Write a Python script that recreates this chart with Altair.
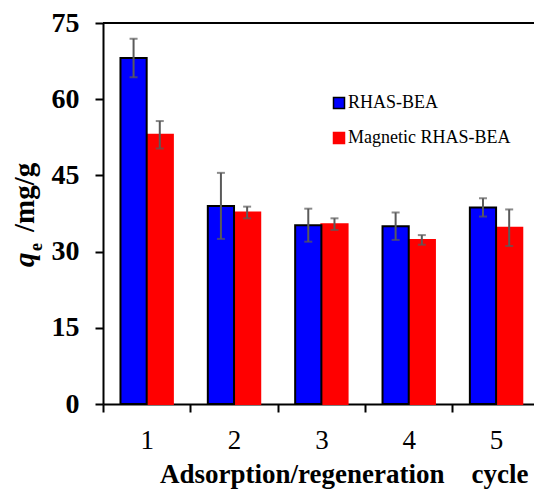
import altair as alt
import pandas as pd

cycles = [1, 2, 3, 4, 5]
rhas = [68.1, 39.0, 35.2, 35.0, 38.7]
rhas_err = [3.8, 6.5, 3.25, 2.7, 1.8]
mag = [53.0, 37.7, 35.4, 32.3, 34.7]
mag_err = [2.7, 1.15, 1.15, 0.95, 3.6]
series_names = ["RHAS-BEA", "Magnetic RHAS-BEA"]
colors = ["#0000FF", "#FF0000"]
strokes = ["#000000", "#FF0000"]
y_ticks = [0, 15, 30, 45, 60, 75]

rows = []
# red first so blue outlines draw on top
for c, v, e in zip(cycles, mag, mag_err):
    rows.append({"cycle": c, "series": series_names[1], "value": v, "err": e, "side": 1})
for c, v, e in zip(cycles, rhas, rhas_err):
    rows.append({"cycle": c, "series": series_names[0], "value": v, "err": e, "side": -1})
df = pd.DataFrame(rows)

HALF = 0.3
FONT = "Liberation Serif"
BOLD = dict(font=FONT, fontWeight="bold", color="black")
W, H = 431, 381

xscale = alt.Scale(domain=[0.5, 0.5 + W / 87.35], nice=False, zero=False)
yscale = alt.Scale(domain=[0, 75], nice=False)

base = alt.Chart(df).transform_calculate(
    x0="datum.side < 0 ? datum.cycle - %f : datum.cycle" % HALF,
    x1="datum.side < 0 ? datum.cycle : datum.cycle + %f" % HALF,
    xc="datum.cycle + datum.side * %f" % (HALF / 2),
    lo="datum.value - datum.err",
    hi="datum.value + datum.err",
)

bars = base.mark_bar(strokeWidth=2).encode(
    x=alt.X("x0:Q", scale=xscale,
            axis=alt.Axis(values=[0.5, 1, 1.5, 2, 2.5, 3, 3.5, 4, 4.5, 5],
                          title=None, grid=False,
                          labelExpr="datum.value % 1 === 0 ? format(datum.value, 'd') : ''",
                          tickOpacity={"condition": {"test": "datum.value % 1 !== 0", "value": 1}, "value": 0},
                          labelOverlap=False, labelFlush=False,
                          labelFont=FONT, labelFontSize=27, labelColor="black",
                          labelPadding=15, tickSize=8, tickWidth=2, tickColor="black",
                          domainColor="black", domainWidth=2)),
    x2="x1:Q",
    y=alt.Y("value:Q", scale=yscale,
            axis=alt.Axis(values=y_ticks, title=None, grid=False,
                          labelFont=FONT, labelFontSize=28, labelFontWeight="bold",
                          labelColor="black", labelPadding=16, tickSize=8, tickWidth=2,
                          tickColor="black", domainColor="black", domainWidth=2)),
    y2=alt.datum(0),
    fill=alt.Fill("series:N",
                  scale=alt.Scale(domain=series_names, range=colors),
                  legend=alt.Legend(title=None, orient="none", legendX=227, legendY=71,
                                    symbolType="square", symbolSize=121, symbolStrokeWidth=1.5,
                                    labelFont=FONT, labelFontSize=18, labelColor="black",
                                    labelLimit=0, labelOffset=0, rowPadding=17, padding=0)),
    stroke=alt.Stroke("series:N", scale=alt.Scale(domain=series_names, range=strokes), legend=None),
    order=alt.Order("side:Q", sort="descending"),
)

err_rule = base.mark_rule(color="#5A5A5A", strokeWidth=2).encode(
    x=alt.X("xc:Q", scale=xscale), y=alt.Y("lo:Q", scale=yscale), y2="hi:Q")
cap_lo = base.mark_tick(color="#5A5A5A", orient="horizontal", size=8, thickness=2).encode(
    x=alt.X("xc:Q", scale=xscale), y=alt.Y("lo:Q", scale=yscale))
cap_hi = base.mark_tick(color="#5A5A5A", orient="horizontal", size=8, thickness=2).encode(
    x=alt.X("xc:Q", scale=xscale), y=alt.Y("hi:Q", scale=yscale))

one = pd.DataFrame({"k": [0]})
top_line = alt.Chart(one).mark_rule(color="black", strokeWidth=2).encode(
    x=alt.value(0), x2=alt.value(W), y=alt.value(0))

yt_q = alt.Chart(one).mark_text(text="q", fontSize=29, fontStyle="italic", angle=270,
                                align="left", baseline="alphabetic", **BOLD).encode(
    x=alt.value(34 - 103), y=alt.value(267 - 23))
yt_e = alt.Chart(one).mark_text(text="e", fontSize=18, angle=270, align="left",
                                baseline="alphabetic", **BOLD).encode(
    x=alt.value(42 - 103), y=alt.value(251 - 23))
yt_rest = alt.Chart(one).mark_text(text="/mg/g", fontSize=29, angle=270, align="left",
                                   baseline="alphabetic", **BOLD).encode(
    x=alt.value(34 - 103), y=alt.value(232 - 23))

xt = alt.Chart(one).mark_text(text="Adsorption/regeneration\u2002\u2002cycle",
                              fontSize=27, align="left", baseline="alphabetic", **BOLD).encode(
    x=alt.value(160 - 103), y=alt.value(483 - 23))

chart = alt.layer(bars, err_rule, cap_lo, cap_hi, top_line, yt_q, yt_e, yt_rest, xt).properties(
    width=W, height=H,
    autosize=alt.AutoSizeParams(type="none"),
    padding={"left": 103, "top": 23, "right": 0, "bottom": 85},
    background="white",
).configure_view(stroke=None)

chart.save("out.html", embed_options={"renderer": "svg", "actions": False})
